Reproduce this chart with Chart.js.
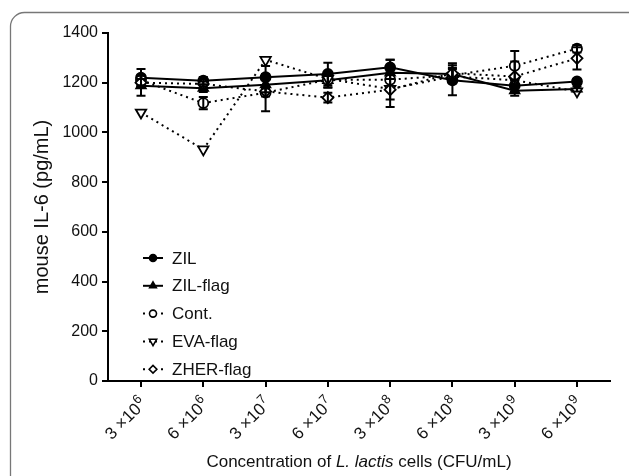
<!DOCTYPE html>
<html>
<head>
<meta charset="utf-8">
<script src="https://cdn.jsdelivr.net/npm/chart.js@4/dist/chart.umd.min.js"></script>
<style>
html,body{margin:0;padding:0;background:#fff;}
#wrap{position:relative;width:629px;height:476px;}
</style>
</head>
<body>
<div id="wrap"><canvas id="c" width="629" height="476"></canvas></div>
<script>
const categories = ["3 ×10^6","6 ×10^6","3 ×10^7","6 ×10^7","3 ×10^8","6 ×10^8","3 ×10^9","6 ×10^9"];
const seriesNames = ["ZIL","ZIL-flag","Cont.","EVA-flag","ZHER-flag"];
const zil      = [1220, 1208, 1222, 1235, 1262, 1210, 1188, 1205];
const zilFlag  = [1188, 1178, 1192, 1210, 1240, 1235, 1168, 1175];
const cont     = [1210, 1118, 1160, 1212, 1212, 1230, 1268, 1337];
const evaFlag  = [1080,  932, 1292, 1215, 1175, 1225, 1210, 1165];
const zherFlag = [1200, 1195, 1165, 1140, 1172, 1238, 1225, 1298];
const zilErr      = [35, 15, 45, 45, 30, 60, 25, 10];
const zilFlagErr  = [40, 15, 30, 30, 25, 20, 20, 10];
const contErr     = [20, 25, 75, 30, 80, 30, 60, 15];
const evaFlagErr  = [0, 0, 0, 0, 0, 0, 0, 0];
const zherFlagErr = [15, 10, 20, 20, 70, 40, 60, 45];
const yTicks = [0, 200, 400, 600, 800, 1000, 1200, 1400];

const values = [zil, zilFlag, cont, evaFlag, zherFlag];
const errors = [zilErr, zilFlagErr, contErr, evaFlagErr, zherFlagErr];
const styles = [
  {pointStyle:'circle', fill:'#000', dash:[], rot:0, r:5},
  {pointStyle:'triangle', fill:'#000', dash:[], rot:0, r:5.5},
  {pointStyle:'circle', fill:'#fff', dash:[2,4], rot:0, r:5},
  {pointStyle:'triangle', fill:'#fff', dash:[2,4], rot:180, r:6},
  {pointStyle:'rectRot', fill:'#fff', dash:[2,4], rot:0, r:5.5}
];

const datasets = seriesNames.map((name, k) => ({
  label: name,
  data: values[k].map((v, i) => ({x: i, y: v})),
  errs: errors[k],
  borderColor: '#000',
  backgroundColor: styles[k].fill,
  borderWidth: 2,
  borderDash: styles[k].dash,
  pointStyle: styles[k].pointStyle,
  pointRotation: styles[k].rot,
  pointRadius: styles[k].r,
  pointBorderWidth: 1.8,
  pointBorderColor: '#000',
  pointBackgroundColor: styles[k].fill,
  tension: 0,
  fill: false,
  order: 5 - k
}));

const FONT = '"Liberation Sans", Arial, sans-serif';

const framePlugin = {
  id: 'frame',
  beforeDraw(chart) {
    const ctx = chart.ctx;
    ctx.save();
    ctx.fillStyle = '#fff';
    ctx.fillRect(0, 0, chart.width, chart.height);
    ctx.strokeStyle = '#777';
    ctx.lineWidth = 1.3;
    ctx.beginPath();
    ctx.roundRect(10.5, 12.5, 660, 500, 14);
    ctx.stroke();
    ctx.restore();
  }
};

const errPlugin = {
  id: 'errbars',
  afterDatasetsDraw(chart) {
    const ctx = chart.ctx;
    const ys = chart.scales.y;
    ctx.save();
    ctx.strokeStyle = '#000';
    ctx.lineWidth = 2;
    ctx.setLineDash([]);
    chart.data.datasets.forEach((ds, k) => {
      const meta = chart.getDatasetMeta(k);
      meta.data.forEach((pt, i) => {
        const e = ds.errs[i];
        if (!e) return;
        const v = ds.data[i].y;
        const yt = ys.getPixelForValue(v + e);
        const yb = ys.getPixelForValue(v - e);
        const x = pt.x;
        ctx.beginPath();
        ctx.moveTo(x, yt); ctx.lineTo(x, yb);
        ctx.moveTo(x - 4.5, yt); ctx.lineTo(x + 4.5, yt);
        ctx.moveTo(x - 4.5, yb); ctx.lineTo(x + 4.5, yb);
        ctx.stroke();
      });
    });
    ctx.restore();
  }
};

const textPlugin = {
  id: 'texts',
  afterDraw(chart) {
    const ctx = chart.ctx;
    ctx.save();
    // legend
    const x0 = 143, x1 = 163, tx = 172;
    const ys0 = 258, dy = 27.8;
    chart.data.datasets.forEach((ds, k) => {
      const y = ys0 + k * dy;
      ctx.strokeStyle = '#000';
      ctx.lineWidth = 2;
      ctx.setLineDash(ds.borderDash.length ? [2, 4] : []);
      ctx.beginPath();
      ctx.moveTo(x0, y); ctx.lineTo(x1, y);
      ctx.stroke();
      ctx.setLineDash([]);
      ctx.fillStyle = ds.pointBackgroundColor;
      ctx.strokeStyle = '#000';
      ctx.lineWidth = 1.6;
      Chart.helpers.drawPoint(ctx, {pointStyle: ds.pointStyle, rotation: ds.pointRotation, radius: ds.pointRadius * 0.7, borderWidth: 1.6}, (x0 + x1) / 2, y);
      ctx.fillStyle = '#111';
      ctx.font = '17px ' + FONT;
      ctx.textBaseline = 'middle';
      ctx.textAlign = 'left';
      ctx.fillText(ds.label, tx, y + 1);
    });
    // x tick labels with superscript exponents
    const xs = chart.scales.x;
    ctx.fillStyle = '#111';
    ctx.textBaseline = 'alphabetic';
    ctx.textAlign = 'right';
    categories.forEach((lab, i) => {
      const [base, exp] = lab.split('^');
      const px = xs.getPixelForValue(i);
      ctx.save();
      ctx.translate(px + 3, 401);
      ctx.rotate(-Math.PI / 4);
      ctx.font = '13px ' + FONT;
      const we = ctx.measureText(exp).width;
      ctx.fillText(exp, 0, -2);
      ctx.font = '17px ' + FONT;
      ctx.fillText(base, -we - 0.5, 5);
      ctx.restore();
    });
    // x axis title with italic part
    const parts = [
      {t: 'Concentration of ', f: '17px ' + FONT},
      {t: 'L. lactis', f: 'italic 17px ' + FONT},
      {t: ' cells (CFU/mL)', f: '17px ' + FONT}
    ];
    let w = 0;
    parts.forEach(p => { ctx.font = p.f; w += ctx.measureText(p.t).width; });
    const cx = (chart.chartArea.left + chart.chartArea.right) / 2;
    let x = cx - w / 2;
    ctx.fillStyle = '#111';
    ctx.textBaseline = 'middle';
    ctx.textAlign = 'left';
    parts.forEach(p => { ctx.font = p.f; ctx.fillText(p.t, x, 462); x += ctx.measureText(p.t).width; });
    ctx.restore();
  }
};

new Chart(document.getElementById('c'), {
  type: 'line',
  data: { datasets },
  options: {
    responsive: false,
    animation: false,
    devicePixelRatio: 1,
    layout: { padding: { left: 0, top: 33, right: 19, bottom: 0 } },
    plugins: { legend: { display: false }, tooltip: { enabled: false } },
    scales: {
      x: {
        type: 'linear',
        min: -0.53,
        max: 7.53,
        afterFit(s) { s.height = 95; },
        afterBuildTicks(s) { s.ticks = categories.map((c, i) => ({value: i})); },
        grid: { drawOnChartArea: false, color: '#000', lineWidth: 2, tickLength: 6 },
        border: { color: '#000', width: 2 },
        ticks: { display: false }
      },
      y: {
        min: 0,
        max: 1400,
        afterFit(s) { s.width = 108; },
        afterBuildTicks(s) { s.ticks = yTicks.map(v => ({value: v})); },
        grid: { drawOnChartArea: false, color: '#000', lineWidth: 2, tickLength: 6 },
        border: { color: '#000', width: 2 },
        ticks: {
          color: '#111',
          font: { family: FONT, size: 16 },
          padding: 4,
          callback: (v) => String(v)
        },
        title: {
          display: true,
          text: 'mouse IL-6 (pg/mL)',
          color: '#111',
          font: { family: FONT, size: 20 },
          padding: { top: 30, bottom: 0 }
        }
      }
    }
  },
  plugins: [framePlugin, errPlugin, textPlugin]
});
</script>
</body>
</html>
